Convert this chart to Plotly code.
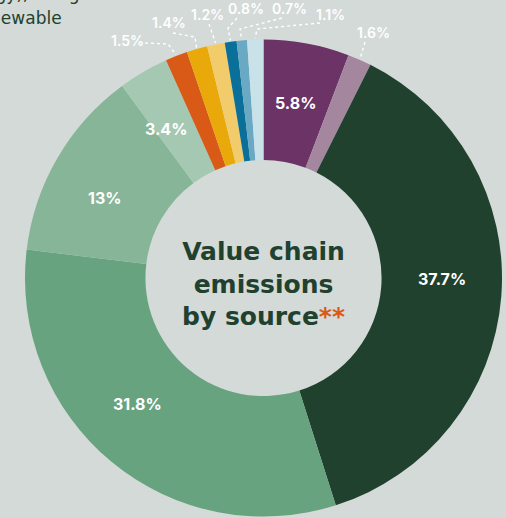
import math
import plotly.graph_objects as go

# Canvas size (px)
W, H = 506, 518

# Value-chain emission shares, clockwise from 12 o'clock
segments = [
    "Segment A", "Segment B", "Segment C", "Segment D", "Segment E", "Segment F",
    "Segment G", "Segment H", "Segment I", "Segment J", "Segment K", "Segment L",
]
shares = [5.8, 1.6, 37.7, 31.8, 13.0, 3.4, 1.5, 1.4, 1.2, 0.8, 0.7, 1.1]
colors = [
    "#6b3366", "#a4879f", "#21412f", "#68a37f", "#87b598", "#a5c8b3",
    "#d85a16", "#e9a90b", "#f2cc6b", "#0a709a", "#69a9c4", "#c9e2ea",
]

BG = "#d4dad8"
INK = "#21412f"
ACCENT = "#d85a16"
FONT = "Inter"
TITLE_FONT = "DejaVu Sans"

# Donut geometry in pixels
CX, CY, R = 263.5, 278.0, 238.5
HOLE = 0.495
R_MID = R * (1 + HOLE) / 2

# Labels drawn inside the ring: index -> small angular nudge (deg)
inside_labels = {0: 0.0, 2: -4.2, 3: 5.4, 4: -3.5, 5: -3.0}
# Labels drawn outside with a dotted leader: index -> (label centre, elbow)
outside_labels = {
    6: ((127, 40), [(145, 43), (168, 44)]),
    7: ((169, 22), [(173, 33), (195, 37)]),
    8: ((207, 14), [(209, 24)]),
    9: ((246, 8), [(237, 18), (228, 28)]),
    10: ((289, 8), [(282, 18), (240, 29)]),
    11: ((330, 14), [(320, 23), (257, 29)]),
    1: ((373, 32), [(365, 42)]),
}


def polar(angle_deg, r):
    a = math.radians(angle_deg)
    return CX + r * math.sin(a), CY - r * math.cos(a)


total = sum(shares)
mid_angles = []
acc = 0.0
for v in shares:
    mid_angles.append((acc + v / 2) / total * 360.0)
    acc += v

fig = go.Figure()

fig.add_trace(go.Pie(
    labels=segments,
    values=shares,
    sort=False,
    direction="clockwise",
    rotation=0,
    hole=HOLE,
    marker=dict(colors=colors, line=dict(width=0)),
    textinfo="none",
    hoverinfo="skip",
    showlegend=False,
    domain=dict(
        x=[(CX - R) / W, (CX + R) / W],
        y=[(H - (CY + R)) / H, (H - (CY - R)) / H],
    ),
))

annotations = []

# Percentages inside the ring
for i, nudge in inside_labels.items():
    x, y = polar(mid_angles[i] + nudge, R_MID)
    annotations.append(dict(
        x=x, y=y, xref="x", yref="y", showarrow=False,
        text=f"{shares[i]:g}%",
        font=dict(family=FONT, size=16, color="white", weight=700),
        xanchor="center", yanchor="middle",
    ))

# Callouts for the thin slices
for i, (label_pos, elbow) in outside_labels.items():
    ax, ay = polar(mid_angles[i], R + 1.5)
    pts = elbow + [(ax, ay)]
    fig.add_trace(go.Scatter(
        x=[p[0] for p in pts], y=[p[1] for p in pts],
        mode="lines",
        line=dict(color="white", width=1.4, dash="dot"),
        hoverinfo="skip", showlegend=False,
    ))
    annotations.append(dict(
        x=label_pos[0], y=label_pos[1], xref="x", yref="y", showarrow=False,
        text=f"{shares[i]:g}%",
        font=dict(family=FONT, size=14, color="white", weight=600),
        xanchor="center", yanchor="middle",
    ))

# Centre title
annotations.append(dict(
    x=CX, y=284, xref="x", yref="y", showarrow=False,
    text=("Value chain<br>emissions<br>by source"
          f"<span style='color:{ACCENT}'>**</span>"),
    font=dict(family=TITLE_FONT, size=25, color=INK, weight=700),
    xanchor="center", yanchor="middle", align="center",
))

# Body copy running off the top-left edge (two lines set separately)
for text, left, bottom in [("energy), using", -45, 6), ("renewable", -29, 30)]:
    annotations.append(dict(
        x=left / W, y=1 - bottom / H, xref="paper", yref="paper",
        showarrow=False, text=text,
        font=dict(family=TITLE_FONT, size=17, color=INK),
        xanchor="left", yanchor="bottom", align="left",
    ))

fig.update_layout(
    width=W, height=H,
    margin=dict(l=0, r=0, t=0, b=0),
    paper_bgcolor=BG, plot_bgcolor=BG,
    xaxis=dict(range=[0, W], visible=False, fixedrange=True, domain=[0, 1]),
    yaxis=dict(range=[H, 0], visible=False, fixedrange=True, domain=[0, 1]),
    annotations=annotations,
)

fig.write_html("out.html")
